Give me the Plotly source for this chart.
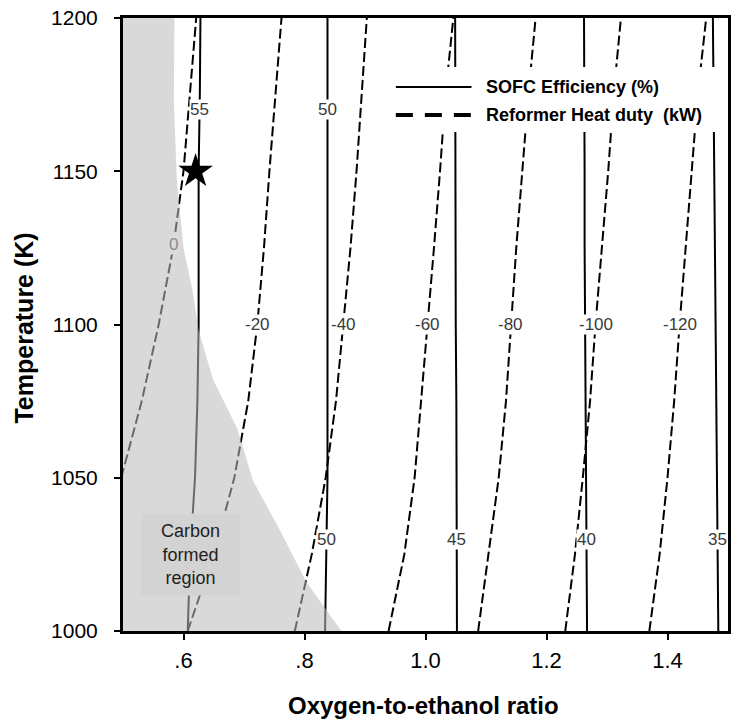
import numpy as np
import plotly.graph_objects as go

# ---- data ----
temps = [1000, 1025, 1050, 1075, 1100, 1125, 1150, 1175, 1200]

# SOFC efficiency iso-lines (%): oxygen-to-ethanol ratio at each temperature
eff_levels = [55, 50, 45, 40, 35]
eff_55 = [0.607, 0.611, 0.619, 0.623, 0.625, 0.625, 0.625, 0.627, 0.628]
eff_50 = [0.834, 0.836, 0.838, 0.838, 0.838, 0.838, 0.838, 0.838, 0.838]
eff_45 = [1.052, 1.052, 1.051, 1.051, 1.050, 1.050, 1.050, 1.049, 1.049]
eff_40 = [1.267, 1.266, 1.265, 1.264, 1.264, 1.263, 1.263, 1.262, 1.262]
eff_35 = [1.484, 1.483, 1.481, 1.480, 1.479, 1.478, 1.477, 1.476, 1.475]

# Reformer heat duty iso-lines (kW)
duty_levels = [0, -20, -40, -60, -80, -100, -120]
duty_0 = [None, None, 0.497, 0.531, 0.559, 0.583, 0.600, 0.610, 0.621]
duty_m20 = [0.607, 0.650, 0.684, 0.707, 0.722, 0.733, 0.742, 0.752, 0.762]
duty_m40 = [0.784, 0.812, 0.835, 0.852, 0.864, 0.876, 0.886, 0.894, 0.903]
duty_m60 = [0.939, 0.965, 0.982, 0.993, 1.003, 1.014, 1.024, 1.033, 1.046]
duty_m80 = [1.087, 1.104, 1.121, 1.133, 1.141, 1.150, 1.160, 1.170, 1.182]
duty_m100 = [1.231, 1.247, 1.260, 1.272, 1.281, 1.292, 1.302, 1.311, 1.323]
duty_m120 = [1.370, 1.387, 1.400, 1.411, 1.420, 1.430, 1.440, 1.450, 1.464]

# carbon-formed region boundary (ratio, temperature)
carbon_x = [0.585, 0.584, 0.589, 0.600, 0.615, 0.625, 0.649, 0.689, 0.715, 0.759, 0.803, 0.861]
carbon_t = [1200, 1173, 1147, 1125, 1111, 1098, 1082, 1066, 1049, 1033, 1016, 1000]

# operating point (star)
star_x = [0.62]
star_t = [1150]

# label temperatures
eff_label_t_top = 1170
eff_label_t_bottom = 1030
duty_label_t = 1100
duty0_label_t = 1126

x_tickvals = [0.6, 0.8, 1.0, 1.2, 1.4]
x_ticktext = [".6", ".8", "1.0", "1.2", "1.4"]
y_tickvals = [1000, 1050, 1100, 1150, 1200]

legend_names = ["SOFC Efficiency (%)", "Reformer Heat duty  (kW)"]

FONT = "Liberation Sans, Arial, sans-serif"

eff_lines = [eff_55, eff_50, eff_45, eff_40, eff_35]
duty_lines = [duty_0, duty_m20, duty_m40, duty_m60, duty_m80, duty_m100, duty_m120]

fig = go.Figure()

for lvl, xs in zip(eff_levels, eff_lines):
    fig.add_trace(go.Scatter(x=xs, y=temps, mode="lines", showlegend=False,
                             line=dict(color="black", width=2), hoverinfo="skip"))
for lvl, xs in zip(duty_levels, duty_lines):
    fig.add_trace(go.Scatter(x=xs, y=temps, mode="lines", showlegend=False,
                             line=dict(color="black", width=2, dash="10px,4px"),
                             hoverinfo="skip"))

# carbon formed region overlay
poly_x = [0.5, 0.5] + carbon_x + [0.5]
poly_t = [1000, 1200] + carbon_t + [1000]
fig.add_trace(go.Scatter(x=poly_x, y=poly_t, mode="lines", fill="toself",
                         fillcolor="rgba(188,188,188,0.56)", line=dict(width=0),
                         showlegend=False, hoverinfo="skip"))

fig.add_trace(go.Scatter(x=star_x, y=star_t, mode="markers", showlegend=False,
                         hoverinfo="skip",
                         marker=dict(symbol="star", size=26, color="black")))

annotations = []
def lab(text, x, y, bg="white", color="#3a3a3a"):
    annotations.append(dict(x=x, y=y, xref="x", yref="y", text=text, showarrow=False,
                            font=dict(family=FONT, size=17, color=color),
                            bgcolor=bg, borderpad=0))

tt = np.array(temps, dtype=float)
for lvl, xs in zip(eff_levels, eff_lines):
    xa = np.array(xs, dtype=float)
    if lvl in (55, 50):
        lab(str(lvl), float(np.interp(eff_label_t_top, tt, xa)), eff_label_t_top)
    if lvl != 55:
        lab(str(lvl), float(np.interp(eff_label_t_bottom, tt, xa)), eff_label_t_bottom)

for lvl, xs in zip(duty_levels, duty_lines):
    valid = [(t, x) for t, x in zip(temps, xs) if x is not None]
    vt = np.array([v[0] for v in valid], dtype=float)
    vx = np.array([v[1] for v in valid], dtype=float)
    if lvl == 0:
        lab(str(lvl), float(np.interp(duty0_label_t, vt, vx)), duty0_label_t,
            bg="rgb(219,219,219)", color="#8a8a8a")
    else:
        lab(str(lvl), float(np.interp(duty_label_t, vt, vx)), duty_label_t)

annotations.append(dict(x=0.611, y=1025, xref="x", yref="y",
                        text="Carbon<br>formed<br>region", showarrow=False,
                        font=dict(family=FONT, size=18, color="#222"),
                        bgcolor="#d3d3d3", width=95, height=79, align="center"))

annotations.append(dict(x=0.497, y=-0.1223, xref="paper", yref="paper",
                        text="<b>Oxygen-to-ethanol ratio</b>", showarrow=False,
                        font=dict(family=FONT, size=24, color="black"),
                        xanchor="center", yanchor="middle"))
annotations.append(dict(x=-0.163, y=0.494, xref="paper", yref="paper",
                        text="<b>Temperature (K)</b>", showarrow=False, textangle=-90,
                        font=dict(family=FONT, size=25, color="black"),
                        xanchor="center", yanchor="middle"))

# hand-drawn legend (long line samples as in the original)
shapes = [
    dict(type="rect", xref="paper", yref="paper", x0=0.428, x1=0.990, y0=0.814, y1=0.920,
         fillcolor="white", line=dict(width=0), layer="above"),
    dict(type="line", xref="paper", yref="paper", x0=0.451, x1=0.576, y0=0.8874, y1=0.8874,
         line=dict(color="black", width=2), layer="above"),
    dict(type="line", xref="paper", yref="paper", x0=0.451, x1=0.576, y0=0.8418, y1=0.8418,
         line=dict(color="black", width=4, dash="17px,12px"), layer="above"),
]
for name, yy in zip(legend_names, [0.8874, 0.8418]):
    annotations.append(dict(x=0.597, y=yy, xref="paper", yref="paper",
                            text="<b>%s</b>" % name, showarrow=False,
                            xanchor="left", yanchor="middle",
                            font=dict(family=FONT, size=18, color="black")))

fig.update_layout(
    width=737, height=722,
    margin=dict(l=123, r=6, t=18, b=91),
    plot_bgcolor="white", paper_bgcolor="white",
    font=dict(family=FONT, color="black"),
    showlegend=False,
    hovermode=False,
    annotations=annotations,
    shapes=shapes,
    xaxis=dict(range=[0.5, 1.5], tickvals=x_tickvals, ticktext=x_ticktext,
               showgrid=False, zeroline=False, showline=True, linewidth=3,
               linecolor="black", mirror=True, ticks="outside", ticklen=6,
               tickwidth=2, tickcolor="black", ticklabelstandoff=2,
               tickfont=dict(family=FONT, size=22, color="black")),
    yaxis=dict(range=[1000, 1200], tickvals=y_tickvals,
               showgrid=False, zeroline=False, showline=True, linewidth=3,
               linecolor="black", mirror=True, ticks="outside", ticklen=6,
               tickwidth=2, tickcolor="black", ticklabelstandoff=12,
               tickfont=dict(family=FONT, size=21, color="black")),
)

fig.write_html("out.html", config={"displayModeBar": False},
               post_script="document.body.style.margin='0px';")
